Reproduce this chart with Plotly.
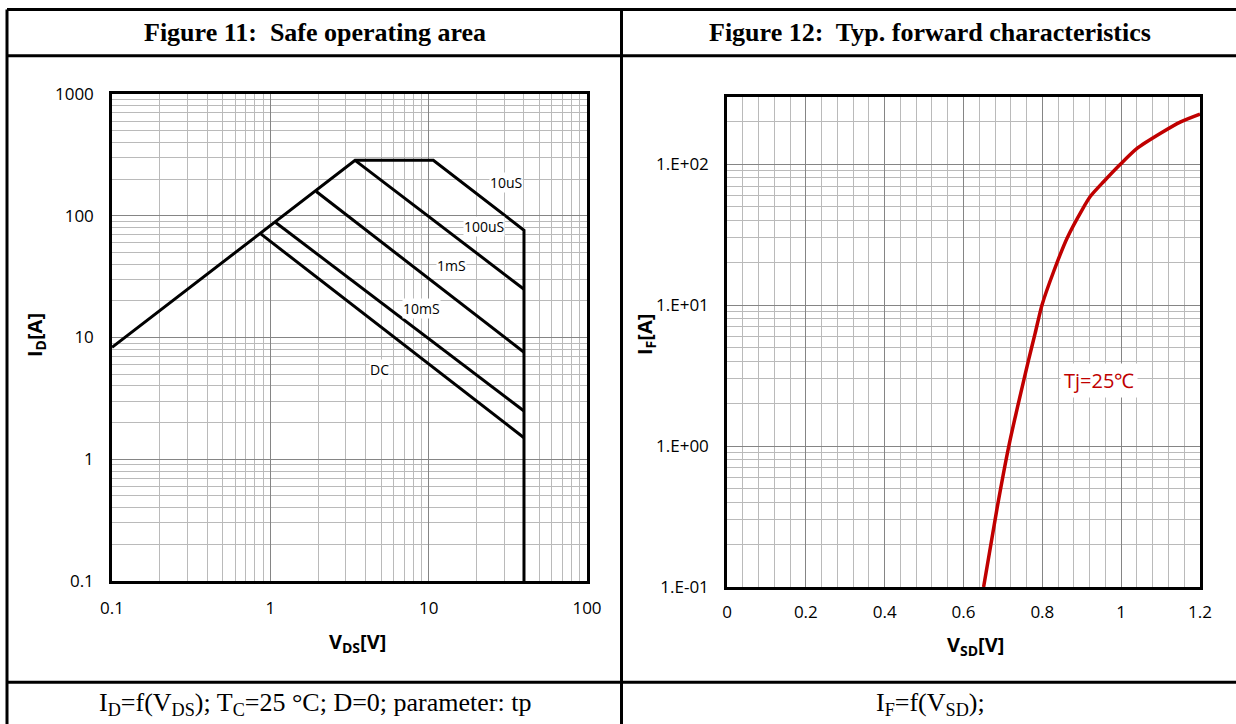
import numpy as np
import plotly.graph_objects as go

W, H = 1236, 724

# ---------------- data: Figure 11 (SOA) ----------------
soa_boundary_v = [0.1, 3.43, 10.7, 40, 40]
soa_boundary_i = [8.3, 285, 285, 76, 0.1]
soa_100us_v = [3.43, 40]
soa_100us_i = [285, 24.9]
soa_1ms_v = [1.95, 40]
soa_1ms_i = [158, 7.56]
soa_10ms_v = [1.08, 40]
soa_10ms_i = [88, 2.49]
soa_dc_v = [0.87, 40]
soa_dc_i = [71, 1.5]

soa_label_text = ["10uS", "100uS", "1mS", "10mS", "DC"]
soa_label_v = [30.8, 22.4, 14.0, 9.0, 4.9]
soa_label_i = [186, 81, 38.9, 17.4, 5.5]

soa_xtick_vals = [0.1, 1, 10, 100]
soa_xtick_text = ["0.1", "1", "10", "100"]
soa_ytick_vals = [0.1, 1, 10, 100, 1000]
soa_ytick_text = ["0.1", "1", "10", "100", "1000"]

# ---------------- data: Figure 12 (forward characteristics) ----------------
vf_v = [0.651, 0.685, 0.715, 0.765, 0.782, 0.799, 0.829, 0.863, 0.901, 0.922,
        0.956, 0.998, 1.041, 1.100, 1.151, 1.200]
vf_i = [0.1, 0.36, 1.0, 4.07, 6.36, 10.0, 17.4, 30.0, 47.5, 59.2,
        75.5, 100.0, 130.0, 166.0, 200.0, 227.0]
fwd_xtick_vals = [0, 0.2, 0.4, 0.6, 0.8, 1.0, 1.2]
fwd_xtick_text = ["0", "0.2", "0.4", "0.6", "0.8", "1", "1.2"]
fwd_ytick_vals = [0.1, 1, 10, 100]
fwd_ytick_text = ["1.E-01", "1.E+00", "1.E+01", "1.E+02"]
fwd_label = "Tj=25℃"
fwd_label_v = 0.945
fwd_label_i = 2.94


def px(x):
    return x / W


def py(y):
    return 1 - y / H


fig = go.Figure()

black_line = dict(color="black", width=3)
for xs, ys in [(soa_boundary_v, soa_boundary_i), (soa_100us_v, soa_100us_i),
               (soa_1ms_v, soa_1ms_i), (soa_10ms_v, soa_10ms_i), (soa_dc_v, soa_dc_i)]:
    fig.add_trace(go.Scatter(x=xs, y=ys, mode="lines", line=black_line,
                             xaxis="x", yaxis="y", showlegend=False, hoverinfo="skip"))

fig.add_trace(go.Scatter(x=vf_v, y=vf_i, mode="lines",
                         line=dict(color="#C00000", width=3.5, shape="spline", smoothing=0.7),
                         xaxis="x2", yaxis="y2", showlegend=False, hoverinfo="skip"))

tick_font = dict(family="Open Sans, Liberation Sans, sans-serif", size=17, color="black")
major_grid = "#858585"
minor_grid = "#bababa"
minor_w = 1.3

common = dict(showgrid=True, gridcolor=major_grid, gridwidth=1.3,
              showline=True, mirror=True, linecolor="black", linewidth=2.5,
              ticks="", tickfont=tick_font, zeroline=False, automargin=False,
              fixedrange=True)

fig.update_layout(
    width=W, height=H, autosize=False,
    margin=dict(l=0, r=0, t=0, b=0, pad=0, autoexpand=False),
    paper_bgcolor="white", plot_bgcolor="white",
    showlegend=False,
    xaxis=dict(
        domain=[px(112), px(587)], type="log", range=[-1, 2],
        tickmode="array", tickvals=soa_xtick_vals, ticktext=soa_xtick_text,
        minor=dict(dtick="D1", showgrid=True, gridcolor=minor_grid, gridwidth=minor_w, ticks=""),
        ticklabelstandoff=10, anchor="y", **common,
    ),
    yaxis=dict(
        domain=[py(581), py(94)], type="log", range=[-1, 3],
        tickmode="array", tickvals=soa_ytick_vals, ticktext=soa_ytick_text,
        minor=dict(dtick="D1", showgrid=True, gridcolor=minor_grid, gridwidth=minor_w, ticks=""),
        ticklabelstandoff=12, anchor="x", **common,
    ),
    xaxis2=dict(
        domain=[px(727), px(1200)], type="linear", range=[0, 1.2],
        tickmode="array", tickvals=fwd_xtick_vals, ticktext=fwd_xtick_text,
        minor=dict(dtick=0.04, showgrid=True, gridcolor=minor_grid, gridwidth=minor_w, ticks=""),
        ticklabelstandoff=8, anchor="y2", **common,
    ),
    yaxis2=dict(
        domain=[py(587), py(97)], type="log", range=[-1, np.log10(300)],
        tickmode="array", tickvals=fwd_ytick_vals, ticktext=fwd_ytick_text,
        minor=dict(dtick="D1", showgrid=True, gridcolor=minor_grid, gridwidth=minor_w, ticks=""),
        ticklabelstandoff=12, anchor="x2", **common,
    ),
)

# table frame lines
shapes = []
lw = 3
for y in [9.5, 55.7, 682.3]:
    shapes.append(dict(type="line", xref="paper", yref="paper",
                       x0=px(7), x1=px(1236), y0=py(y), y1=py(y),
                       line=dict(color="black", width=lw)))
for x in [7, 621.5]:
    shapes.append(dict(type="line", xref="paper", yref="paper",
                       x0=px(x), x1=px(x), y0=py(9.5), y1=py(724),
                       line=dict(color="black", width=lw)))
fig.update_layout(shapes=shapes)

ann = []
serif = "Liberation Serif, Times New Roman, serif"
sans = "Open Sans, Liberation Sans, sans-serif"
ann.append(dict(text="<b>Figure 11:  Safe operating area</b>", xref="paper", yref="paper",
                x=px(315), y=py(33), showarrow=False, xanchor="center", yanchor="middle",
                font=dict(family=serif, size=26, color="black")))
ann.append(dict(text="<b>Figure 12:  Typ. forward characteristics</b>", xref="paper", yref="paper",
                x=px(930), y=py(33), showarrow=False, xanchor="center", yanchor="middle",
                font=dict(family=serif, size=26, color="black")))
ann.append(dict(text="I<sub>D</sub>=f(V<sub>DS</sub>); T<sub>C</sub>=25 °C; D=0; parameter: tp",
                xref="paper", yref="paper", x=px(315), y=py(704), showarrow=False,
                xanchor="center", yanchor="middle",
                font=dict(family=serif, size=26, color="black")))
ann.append(dict(text="I<sub>F</sub>=f(V<sub>SD</sub>);",
                xref="paper", yref="paper", x=px(930), y=py(704), showarrow=False,
                xanchor="center", yanchor="middle",
                font=dict(family=serif, size=26, color="black")))

# axis titles
title_font = dict(family=sans, size=20, color="black")
ann.append(dict(text="<b>V<sub>DS</sub>[V]</b>", xref="paper", yref="paper",
                x=px(357), y=py(642), showarrow=False, xanchor="center", yanchor="middle",
                font=title_font))
ann.append(dict(text="<b>I<sub>D</sub>[A]</b>", xref="paper", yref="paper",
                x=px(35), y=py(335), showarrow=False, xanchor="center", yanchor="middle",
                textangle=-90, font=title_font))
ann.append(dict(text="<b>V<sub>SD</sub>[V]</b>", xref="paper", yref="paper",
                x=px(976), y=py(645), showarrow=False, xanchor="center", yanchor="middle",
                font=title_font))
ann.append(dict(text="<b>I<sub>F</sub>[A]</b>", xref="paper", yref="paper",
                x=px(645), y=py(335), showarrow=False, xanchor="center", yanchor="middle",
                textangle=-90, font=title_font))

# curve labels
for t, v, i in zip(soa_label_text, soa_label_v, soa_label_i):
    ann.append(dict(text=t, xref="x", yref="y", x=np.log10(v), y=np.log10(i),
                    showarrow=False, xanchor="center", yanchor="middle",
                    bgcolor="white", borderpad=0,
                    font=dict(family=sans, size=14, color="black")))
ann.append(dict(text=fwd_label, xref="x2", yref="y2", x=fwd_label_v, y=np.log10(fwd_label_i),
                showarrow=False, xanchor="center", yanchor="middle",
                bgcolor="white", borderpad=3,
                font=dict(family=sans, size=20, color="#C00000")))

fig.update_layout(annotations=ann)

fig.write_html(
    "out.html",
    config={"displayModeBar": False},
    post_script="document.body.style.margin='0';document.body.style.padding='0';"
                "document.documentElement.style.overflow='hidden';",
)
